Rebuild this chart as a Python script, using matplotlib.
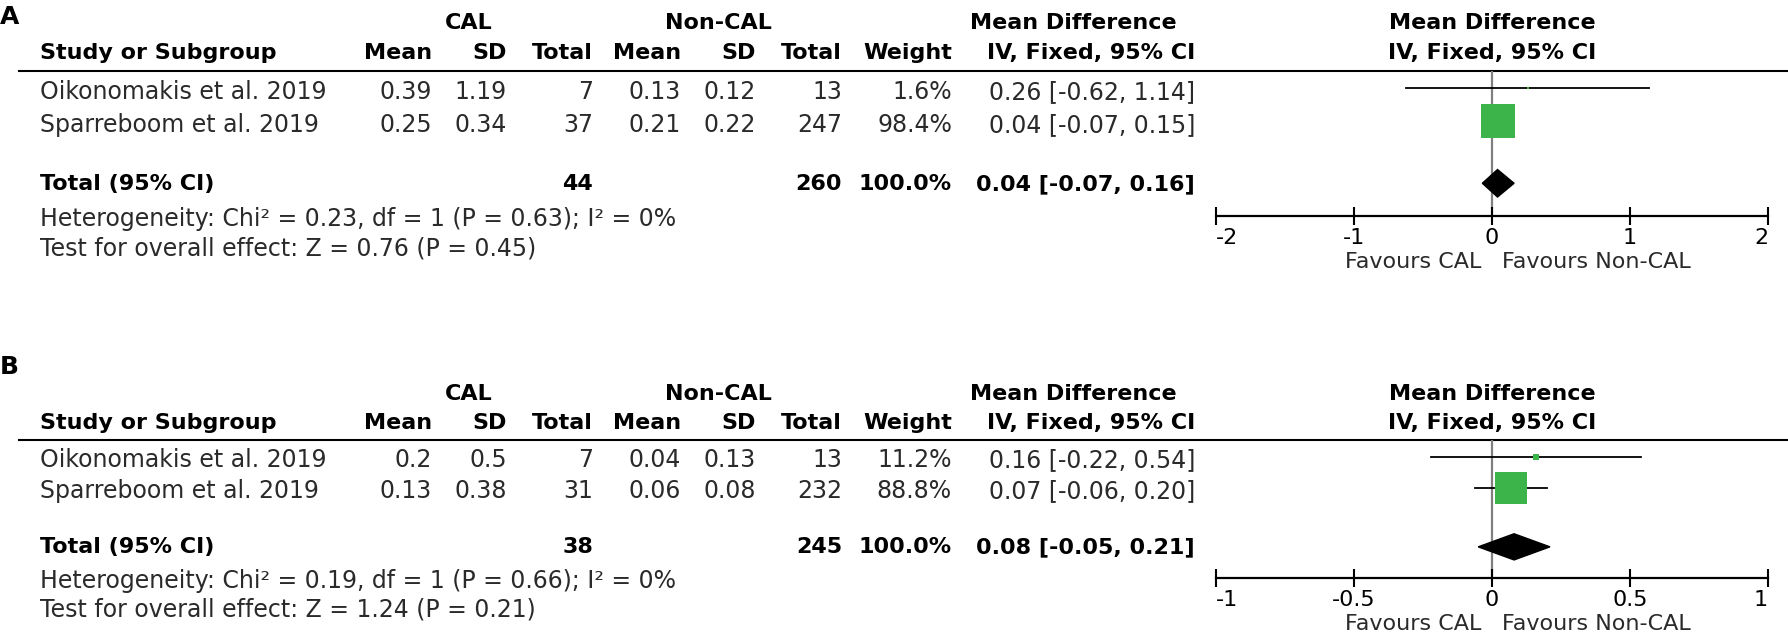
import matplotlib
matplotlib.use("Agg")
import matplotlib.pyplot as plt
from matplotlib.patches import Polygon
from matplotlib.transforms import blended_transform_factory

plt.rcParams['font.family'] = ['DejaVu Sans']
plt.rcParams['axes.unicode_minus'] = False

studies = ["Oikonomakis et al. 2019", "Sparreboom et al. 2019"]

# panel A
cal_mean_a = [0.39, 0.25]
cal_sd_a = [1.19, 0.34]
cal_n_a = [7, 37]
non_mean_a = [0.13, 0.21]
non_sd_a = [0.12, 0.22]
non_n_a = [13, 247]
weight_a = [1.6, 98.4]
md_a = [0.26, 0.04]
lo_a = [-0.62, -0.07]
hi_a = [1.14, 0.15]
tot_a = [0.04, -0.07, 0.16]
tot_n_a = [44, 260]
het_a = "Heterogeneity: Chi² = 0.23, df = 1 (P = 0.63); I² = 0%"
test_a = "Test for overall effect: Z = 0.76 (P = 0.45)"
ticks_a = [-2, -1, 0, 1, 2]
ticklab_a = ["-2", "-1", "0", "1", "2"]

# panel B
cal_mean_b = [0.2, 0.13]
cal_sd_b = [0.5, 0.38]
cal_n_b = [7, 31]
non_mean_b = [0.04, 0.06]
non_sd_b = [0.13, 0.08]
non_n_b = [13, 232]
weight_b = [11.2, 88.8]
md_b = [0.16, 0.07]
lo_b = [-0.22, -0.06]
hi_b = [0.54, 0.20]
tot_b = [0.08, -0.05, 0.21]
tot_n_b = [38, 245]
het_b = "Heterogeneity: Chi² = 0.19, df = 1 (P = 0.66); I² = 0%"
test_b = "Test for overall effect: Z = 1.24 (P = 0.21)"
ticks_b = [-1, -0.5, 0, 0.5, 1]
ticklab_b = ["-1", "-0.5", "0", "0.5", "1"]

GREEN = '#3cb44a'
TXT = '#2a2a2a'
FS = 17
FSB = 16

W, H = 1788, 640
fig = plt.figure(figsize=(W / 100, H / 100), dpi=100)
tab = fig.add_axes([0, 0, 1, 1])
tab.set_xlim(0, W)
tab.set_ylim(H, 0)
tab.axis('off')

X0, X1 = 1216, 1768  # forest axis pixel span


def panel(letter, letter_y, line_y, axis_y, xlim, ticks, ticklab,
          cm, cs, cn, nm, ns, nn, wt, md, lo, hi, tot, tot_n, het, test):
    fax = fig.add_axes([X0 / W, 1 - axis_y / H, (X1 - X0) / W, (axis_y - line_y) / H])
    fax.set_facecolor('none')
    fax.set_xlim(*xlim)
    fax.set_ylim(3.9, -0.53)
    for s in ['top', 'left', 'right']:
        fax.spines[s].set_visible(False)
    fax.spines['bottom'].set_linewidth(1.6)
    fax.set_yticks([])
    fax.set_xticks(ticks, labels=ticklab)
    fax.tick_params(axis='x', direction='inout', length=13, width=1.5,
                    labelsize=16, pad=2)
    labs = fax.get_xticklabels()
    labs[0].set_ha('left')
    labs[-1].set_ha('right')

    fax.axvline(0, color='#808080', lw=1.6, zorder=1)
    for i in range(len(md)):
        fax.plot([lo[i], hi[i]], [i, i], color='black', lw=1.3, zorder=2)
        side = max(2.5, 35 * (wt[i] / 100) ** 0.75)
        fax.plot(md[i], i, 's', ms=side * 0.72, color=GREEN, mec=GREEN,
                 mew=0, zorder=3)
    ty = 2.9
    dh = 0.42
    fax.add_patch(Polygon([(tot[1], ty), (tot[0], ty - dh), (tot[2], ty), (tot[0], ty + dh)],
                          closed=True, color='black', zorder=4))
    fax.annotate("Favours CAL", xy=(0, 0), xycoords=('data', 'axes fraction'),
                 xytext=(-8, -33), textcoords='offset points', ha='right', va='center',
                 fontsize=16, color=TXT)
    fax.annotate("Favours Non-CAL", xy=(0, 0), xycoords=('data', 'axes fraction'),
                 xytext=(7, -33), textcoords='offset points', ha='left', va='center',
                 fontsize=16, color=TXT)

    tr = blended_transform_factory(tab.transData, fax.transData)
    tab.text(0, letter_y, letter, fontsize=18, fontweight='bold', va='center')
    tab.plot([19, W], [-0.53, -0.53], color='black', lw=1.5, transform=tr)

    h1, h2 = -2.0, -1.08
    bold = dict(fontsize=FSB, fontweight='bold', va='center', transform=tr, color='black')
    tab.text(469, h1, "CAL", ha='center', **bold)
    tab.text(718, h1, "Non-CAL", ha='center', **bold)
    tab.text(1073, h1, "Mean Difference", ha='center', **bold)
    tab.text(1492, h1, "Mean Difference", ha='center', **bold)
    tab.text(40, h2, "Study or Subgroup", ha='left', **bold)
    for x, s in [(432, "Mean"), (507, "SD"), (593, "Total"), (681, "Mean"),
                 (756, "SD"), (842, "Total"), (952, "Weight"), (1195, "IV, Fixed, 95% CI")]:
        tab.text(x, h2, s, ha='right', **bold)
    tab.text(1492, h2, "IV, Fixed, 95% CI", ha='center', **bold)

    reg = dict(fontsize=FS, va='center', transform=tr, color=TXT)
    for i in range(len(studies)):
        y = i + 0.12
        tab.text(40, y, studies[i], ha='left', **reg)
        cols = [(432, str(cm[i])), (507, str(cs[i])), (593, str(cn[i])),
                (681, str(nm[i])), (756, str(ns[i])), (842, str(nn[i])),
                (952, f"{wt[i]:.1f}%"),
                (1195, f"{md[i]:.2f} [{lo[i]:.2f}, {hi[i]:.2f}]")]
        for x, s in cols:
            tab.text(x, y, s, ha='right', **reg)

    y = ty + 0.02
    tab.text(40, y, "Total (95% CI)", ha='left', **bold)
    tab.text(593, y, str(tot_n[0]), ha='right', **bold)
    tab.text(842, y, str(tot_n[1]), ha='right', **bold)
    tab.text(952, y, f"{sum(wt):.1f}%", ha='right', **bold)
    tab.text(1195, y, f"{tot[0]:.2f} [{tot[1]:.2f}, {tot[2]:.2f}]", ha='right', **bold)
    tab.text(40, 4.0, het, ha='left', **reg)
    tab.text(40, 4.9, test, ha='left', **reg)


panel("A", 17, 71, 216, (-2, 2), ticks_a, ticklab_a,
      cal_mean_a, cal_sd_a, cal_n_a, non_mean_a, non_sd_a, non_n_a,
      weight_a, md_a, lo_a, hi_a, tot_a, tot_n_a, het_a, test_a)
panel("B", 367, 440, 578, (-1, 1), ticks_b, ticklab_b,
      cal_mean_b, cal_sd_b, cal_n_b, non_mean_b, non_sd_b, non_n_b,
      weight_b, md_b, lo_b, hi_b, tot_b, tot_n_b, het_b, test_b)

fig.savefig("out.png", dpi=100, facecolor='white')
